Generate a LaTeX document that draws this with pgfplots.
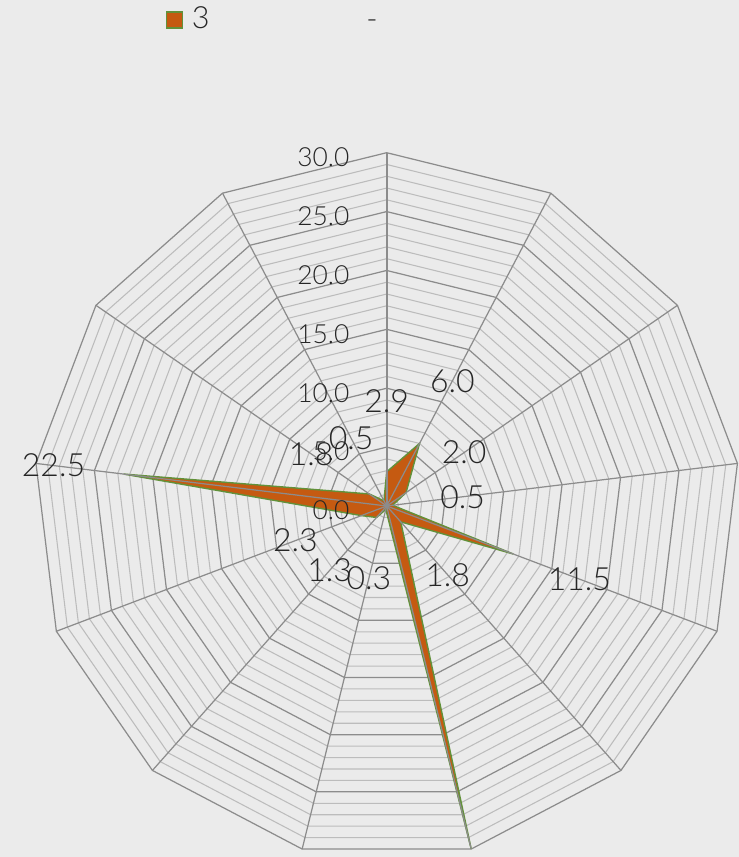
\documentclass[border=0pt]{standalone}
\usepackage{fontspec}
\setmainfont{Lato}[UprightFont=* Light]
\usepackage{pgfplots}
\pgfplotsset{compat=1.18}
\usepackage{pgfplotstable}
\definecolor{bg}{RGB}{235,235,235}
\definecolor{serfill}{RGB}{197,90,17}
\definecolor{serline}{RGB}{98,145,58}
\definecolor{majgrid}{RGB}{140,140,140}
\definecolor{mingrid}{RGB}{188,188,188}
\definecolor{txt}{RGB}{38,38,38}
\tikzset{axlbl/.style={anchor=east, inner sep=0pt, text=txt, font=\fontsize{7.5}{9}\selectfont}}

\pgfplotstableread{
angle value
90 2.9
62.3077 6.0
34.6154 2.0
6.9231 0.5
-20.7692 11.5
-48.4615 1.8
-76.1538 30.0
-103.8462 0.3
-131.5385 1.3
-159.2308 2.3
-186.9231 22.5
-214.6154 1.8
-242.3077 0.5
}\radardata

\pgfplotstableread{
angle one
90 1
62.3077 1
34.6154 1
6.9231 1
-20.7692 1
-48.4615 1
-76.1538 1
-103.8462 1
-131.5385 1
-159.2308 1
-186.9231 1
-214.6154 1
-242.3077 1
-270 1
}\ringangles

\begin{document}
\begin{tikzpicture}
\path[use as bounding box, fill=bg] (0,0) rectangle (7.39cm,8.57cm);
\begin{axis}[
  at={(0,0)}, anchor=south west,
  scale only axis, width=7.39cm, height=8.57cm,
  hide axis,
  xmin=-32.835, xmax=29.915, ymin=-29.804, ymax=42.965,
  /pgf/number format/assume math mode=true,
  legend style={at={(0.2246,0.9767)}, anchor=west, draw=none, fill=none,
    inner sep=0pt, outer sep=0pt, text=txt,
    font=\fontsize{8.7}{10}\selectfont,
    nodes={inner sep=0pt}},
  legend image code/.code={\draw[#1] (0cm,-0.08cm) rectangle (0.16cm,0.08cm); \path (0.245cm,0cm);},
]
% minor rings
\pgfplotsinvokeforeach{1,2,3,4,6,7,8,9,11,12,13,14,16,17,18,19,21,22,23,24,26,27,28,29}{
  \addplot[data cs=polar, mingrid, line width=0.3pt, forget plot] table[x=angle, y expr=#1*\thisrow{one}] {\ringangles};
}
% major rings
\pgfplotsinvokeforeach{5,10,15,20,25,30}{
  \addplot[data cs=polar, majgrid, line width=0.35pt, forget plot] table[x=angle, y expr=#1*\thisrow{one}] {\ringangles};
}
% series
\addplot[data cs=polar, fill=serfill, draw=serline, line width=0.4pt, line join=miter] table[x=angle, y=value] {\radardata} -- cycle;
\addlegendentry{3}
% spokes
\pgfplotsinvokeforeach{62.3077,34.6154,6.9231,-20.7692,-48.4615,-76.1538,-103.8462,-131.5385,-159.2308,-186.9231,-214.6154,-242.3077}{
  \addplot[data cs=polar, majgrid, line width=0.35pt, forget plot] coordinates {(#1,0) (#1,30)};
}
\addplot[data cs=polar, color=majgrid, line width=0.6pt, forget plot] coordinates {(90,0) (90,30)};
% data labels
\addplot[data cs=polar, draw=none, mark=none, forget plot,
  skip coords between index={6}{7},
  point meta=explicit,
  nodes near coords={\pgfmathprintnumber[fixed,fixed zerofill,precision=1]{\pgfplotspointmeta}},
  every node near coord/.append style={anchor=center, inner sep=0pt, text=txt, font=\fontsize{9.1}{11}\selectfont}]
  table[x=angle, y expr=\thisrow{value}+6, meta=value] {\radardata};
% radial axis labels
\node[axlbl] at (axis cs:-3.116,29.62) {30.0};
\node[axlbl] at (axis cs:-3.116,24.62) {25.0};
\node[axlbl] at (axis cs:-3.116,19.62) {20.0};
\node[axlbl] at (axis cs:-3.116,14.62) {15.0};
\node[axlbl] at (axis cs:-3.116,9.62) {10.0};
\node[axlbl] at (axis cs:-3.116,4.62) {5.0};
\node[axlbl] at (axis cs:-3.116,-0.38) {0.0};
% title
\node[anchor=base, inner sep=0pt, text=txt, font=\fontsize{8.7}{10}\selectfont] at (rel axis cs:0.5034,0.9656) {-};
\end{axis}
\end{tikzpicture}
\end{document}
